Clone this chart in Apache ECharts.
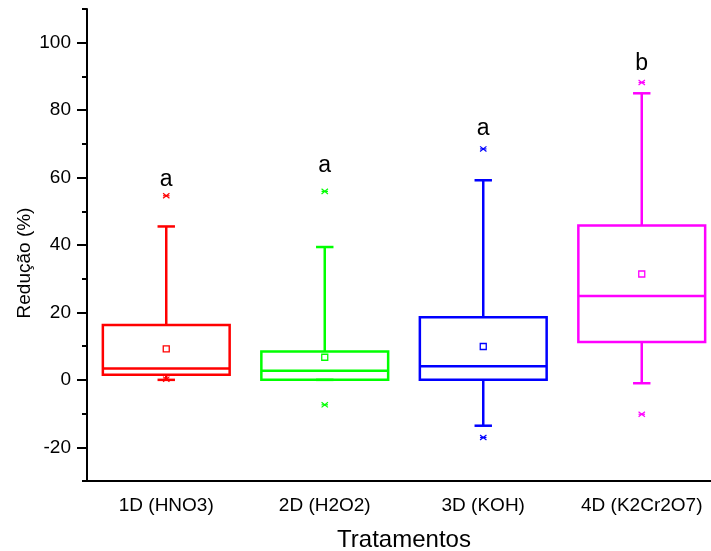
<!DOCTYPE html>
<html>
<head>
<meta charset="utf-8">
<script src="https://cdn.jsdelivr.net/npm/echarts@6/dist/echarts.min.js"></script>
<style>
  html, body { margin: 0; padding: 0; background: #fff; }
  #chart { width: 711px; height: 551px; }
</style>
</head>
<body>
<div id="chart"></div>
<script>
const categories = ['1D (HNO3)', '2D (H2O2)', '3D (KOH)', '4D (K2Cr2O7)']
const colors = ['#ff0000', '#00ff00', '#0000ff', '#ff00ff']

// box statistics per treatment
const whiskerLow = [0, 0, -13.6, -1.0]
const q1 = [1.5, 0, 0, 11.2]
const median = [3.4, 2.7, 4.0, 24.9]
const q3 = [16.3, 8.4, 18.6, 45.8]
const whiskerHigh = [45.5, 39.4, 59.2, 85.0]
const mean = [9.2, 6.7, 9.9, 31.4]
const outlierHigh = [54.6, 55.9, 68.5, 88.2]
const outlierLow = [0.2, -7.4, -17.1, -10.2]

// significance letters
const letters = ['a', 'a', 'a', 'b']
const letterY = [59.3, 63.5, 74.4, 93.8]

const yLabels = [-20, 0, 20, 40, 60, 80, 100]

const font = "'Liberation Sans', Arial, sans-serif"

const chart = echarts.init(document.getElementById('chart'), null, { renderer: 'canvas' })

const boxData = categories.map((c, i) => [i, whiskerLow[i], q1[i], median[i], q3[i], whiskerHigh[i], mean[i]])
const outlierData = []
categories.forEach((c, i) => {
  outlierData.push([i, outlierHigh[i]])
  outlierData.push([i, outlierLow[i]])
})
const letterData = categories.map((c, i) => [i, letterY[i], letters[i]])

const renderBox = (params, api) => {
  const i = api.value(0)
  const color = colors[i]
  const band = api.size([1, 0])[0]
  const hw = band * 0.4
  const cw = band * 0.055
  const x = api.coord([i, 0])[0]
  const y = v => api.coord([i, v])[1]
  const st = { stroke: color, lineWidth: 2.5, fill: null }
  const line = (x1, y1, x2, y2) => ({ type: 'line', shape: { x1, y1, x2, y2 }, style: st })
  const yq1 = y(api.value(2)), ymed = y(api.value(3)), yq3 = y(api.value(4))
  const ylo = y(api.value(1)), yhi = y(api.value(5)), ymean = y(api.value(6))
  return {
    type: 'group',
    children: [
      line(x, yq3, x, yhi),
      line(x - cw, yhi, x + cw, yhi),
      line(x, yq1, x, ylo),
      line(x - cw, ylo, x + cw, ylo),
      { type: 'rect', shape: { x: x - hw, y: yq3, width: hw * 2, height: yq1 - yq3 }, style: st },
      line(x - hw, ymed, x + hw, ymed),
      { type: 'rect', shape: { x: x - 3, y: ymean - 3, width: 6, height: 6 }, style: { stroke: color, lineWidth: 1.3, fill: null } }
    ]
  }
}

const renderOutlier = (params, api) => {
  const i = api.value(0)
  const p = api.coord([i, api.value(1)])
  const s = 3.2
  const st = { stroke: colors[i], lineWidth: 1.2 }
  return {
    type: 'group',
    children: [
      { type: 'line', shape: { x1: p[0] - s, y1: p[1] - s * 0.8, x2: p[0] + s, y2: p[1] + s * 0.8 }, style: st },
      { type: 'line', shape: { x1: p[0] - s, y1: p[1] + s * 0.8, x2: p[0] + s, y2: p[1] - s * 0.8 }, style: st },
      { type: 'line', shape: { x1: p[0] - s, y1: p[1], x2: p[0] + s, y2: p[1] }, style: st }
    ]
  }
}

const renderLetter = (params, api) => {
  const p = api.coord([api.value(0), api.value(1)])
  return {
    type: 'text',
    x: p[0],
    y: p[1],
    style: {
      text: letterData[params.dataIndex][2],
      fontSize: 23,
      fontFamily: font,
      fill: '#000',
      align: 'center',
      verticalAlign: 'middle'
    }
  }
}

const option = {
  backgroundColor: '#fff',
  animation: false,
  grid: { left: 87, top: 9, right: -10, bottom: 70, outerBoundsMode: 'none', containLabel: false },
  xAxis: {
    type: 'category',
    data: categories,
    boundaryGap: true,
    axisLine: { onZero: false, lineStyle: { color: '#000', width: 2 } },
    axisTick: { alignWithLabel: true, interval: 0, length: 9, lineStyle: { color: '#000', width: 2 } },
    axisLabel: { interval: 0, fontSize: 19, color: '#000', fontFamily: font, margin: 15 },
    splitLine: { show: false },
    name: 'Tratamentos',
    nameLocation: 'middle',
    nameGap: 47,
    nameTextStyle: { fontSize: 24, color: '#000', fontFamily: font }
  },
  yAxis: {
    type: 'value',
    min: -30,
    max: 110,
    interval: 20,
    axisLine: { show: true, lineStyle: { color: '#000', width: 2 } },
    axisTick: { show: true, length: 5, lineStyle: { color: '#000', width: 2 } },
    minorTick: { show: true, splitNumber: 2, length: 10, lineStyle: { color: '#000', width: 2 } },
    axisLabel: { customValues: yLabels, fontSize: 19, color: '#000', fontFamily: font, margin: 16 },
    splitLine: { show: false },
    minorSplitLine: { show: false }
  },
  graphic: [{
    type: 'text',
    x: 25,
    y: 263,
    rotation: Math.PI / 2,
    style: {
      text: 'Redução (%)',
      fontSize: 19,
      fontFamily: font,
      fill: '#000',
      align: 'center',
      verticalAlign: 'middle'
    }
  }],
  series: [
    {
      type: 'custom',
      renderItem: renderBox,
      data: boxData,
      encode: { x: 0, y: [1, 2, 3, 4, 5] },
      clip: false
    },
    {
      type: 'custom',
      renderItem: renderOutlier,
      data: outlierData,
      encode: { x: 0, y: 1 }
    },
    {
      type: 'custom',
      renderItem: renderLetter,
      data: letterData.map(d => [d[0], d[1]]),
      encode: { x: 0, y: 1 }
    }
  ]
}

chart.setOption(option)
</script>
</body>
</html>
